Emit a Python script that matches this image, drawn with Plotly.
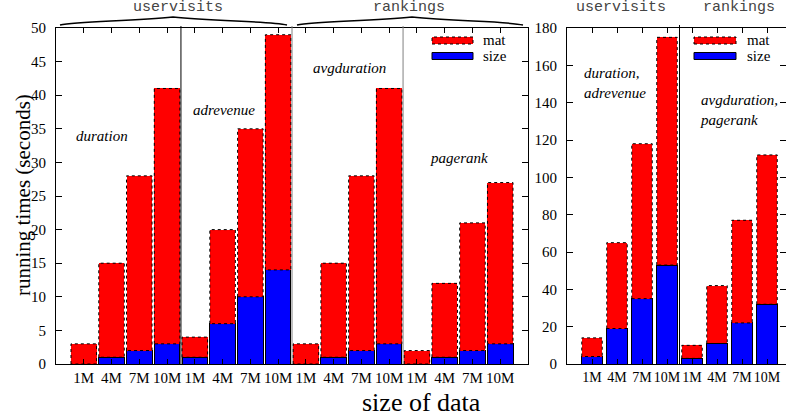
import plotly.graph_objects as go

# ---------------- data ----------------
size_labels = ["1M", "4M", "7M", "10M"]

# left chart: 4 groups (duration, adrevenue | avgduration, pagerank)
left_groups = ["duration", "adrevenue", "avgduration", "pagerank"]
left_size = [0, 1, 2, 3, 1, 6, 10, 14, 0, 1, 2, 3, 0, 1, 2, 3]
left_mat = [3, 14, 26, 38, 3, 14, 25, 35, 3, 14, 26, 38, 2, 11, 19, 24]

# right chart: 2 groups (duration+adrevenue | avgduration+pagerank)
right_groups = ["duration,<br>adrevenue", "avgduration,<br>pagerank"]
right_size = [4, 19, 35, 53, 3, 11, 22, 32]
right_mat = [10, 46, 83, 122, 7, 31, 55, 80]

table_labels = ["uservisits", "rankings"]

# ---------------- helpers ----------------
W, H = 786, 419
TOP, BOT = 28, 364


def PX(x):
    return x / W


def PY(y):
    return (BOT - y) / (BOT - TOP)


SERIF = "Liberation Serif"
MONO = "Liberation Mono"
RED = "#ff0000"
BLUE = "#0000ff"

fig = go.Figure()


def add_chart(sizes, mats, xa, ya, width):
    xs = list(range(1, len(sizes) + 1))
    fig.add_trace(go.Bar(x=xs, y=sizes, width=width, marker=dict(color=BLUE, line=dict(color="black", width=1)),
                         xaxis=xa, yaxis=ya, showlegend=False, name="size"))
    fig.add_trace(go.Bar(x=xs, y=mats, width=width, marker=dict(color=RED, line=dict(width=0)),
                         xaxis=xa, yaxis=ya, showlegend=False, name="mat"))
    # dashed outline of the mat part
    ox, oy = [], []
    for x, s, m in zip(xs, sizes, mats):
        h = width / 2
        ox += [x - h, x - h, x + h, x + h, x - h, None]
        oy += [s, s + m, s + m, s, s, None]
    fig.add_trace(go.Scatter(x=ox, y=oy, mode="lines", line=dict(color="black", width=1, dash="dot"),
                             xaxis=xa, yaxis=ya, showlegend=False, hoverinfo="skip"))


add_chart(left_size, left_mat, "x", "y", 0.92)
add_chart(right_size, right_mat, "x2", "y2", 0.82)

tick_font = dict(family=SERIF, size=15, color="black")
tick_font_small = dict(family=SERIF, size=14, color="black")
axis_base = dict(showline=True, linecolor="black", linewidth=1, mirror="allticks", ticks="inside",
                 tickcolor="black", showgrid=False, zeroline=False, automargin=False)
ycommon = dict(ticklen=6, tickfont=tick_font, ticklabelstandoff=6, **axis_base)

n_left = len(left_size)
n_right = len(right_size)
fig.update_layout(
    width=W, height=H, margin=dict(l=0, r=0, t=TOP, b=H - BOT, autoexpand=False),
    paper_bgcolor="white", plot_bgcolor="white", barmode="stack",
    xaxis=dict(domain=[PX(56), PX(528)], range=[0, n_left + 1], ticklen=5, tickangle=0, tickfont=tick_font,
               tickvals=list(range(1, n_left + 1)), ticktext=size_labels * 4, anchor="y", **axis_base),
    yaxis=dict(domain=[0, 1], range=[0, 50], dtick=5, anchor="x", **ycommon),
    xaxis2=dict(domain=[PX(567), 1], range=[0, 8.76], ticklen=5, tickangle=0, tickfont=tick_font_small,
                tickvals=list(range(1, n_right + 1)), ticktext=size_labels * 2, anchor="y2", **axis_base),
    yaxis2=dict(domain=[0, 1], range=[0, 180], dtick=20, anchor="x2", **ycommon),
)

shapes = []
# group separators
for xv, col in [(4.5, "black"), (8.5, "#808080"), (12.5, "#808080")]:
    shapes.append(dict(type="line", xref="x", yref="paper", x0=xv, x1=xv, y0=0, y1=PY(26),
                       line=dict(color=col, width=1)))
shapes.append(dict(type="line", xref="x2", yref="paper", x0=4.5, x1=4.5, y0=0, y1=PY(25),
                   line=dict(color="black", width=1)))


# curly braces above left chart
def brace(x0, xp, x1, ye=25, yp=17):
    p = (f"M {PX(x0)},{PY(ye)} C {PX(x0 + 18)},{PY(21)} {PX(xp - 40)},{PY(21.5)} {PX(xp)},{PY(yp)} "
         f"C {PX(xp + 40)},{PY(21.5)} {PX(x1 - 18)},{PY(21)} {PX(x1)},{PY(ye)}")
    return dict(type="path", xref="paper", yref="paper", path=p, line=dict(color="black", width=1.5))


shapes.append(brace(60, 173, 287))
shapes.append(brace(297, 412, 523))


# legends
def legend(xbox0, xbox1, xtext):
    out = [
        dict(type="rect", xref="paper", yref="paper", x0=PX(xbox0), x1=PX(xbox1), y0=PY(44), y1=PY(37),
             fillcolor=RED, line=dict(color="black", width=1, dash="dot")),
        dict(type="rect", xref="paper", yref="paper", x0=PX(xbox0), x1=PX(xbox1), y0=PY(59.5), y1=PY(52.5),
             fillcolor=BLUE, line=dict(color="black", width=1)),
    ]
    anns = [
        dict(text="mat", x=PX(xtext), y=PY(40.5), xref="paper", yref="paper", xanchor="left", yanchor="middle",
             showarrow=False, font=dict(family=SERIF, size=15, color="black")),
        dict(text="size", x=PX(xtext), y=PY(56), xref="paper", yref="paper", xanchor="left", yanchor="middle",
             showarrow=False, font=dict(family=SERIF, size=15, color="black")),
    ]
    return out, anns


annotations = []
for bx0, bx1, tx in [(432, 473, 481), (694, 736, 745)]:
    s, a = legend(bx0, bx1, tx)
    shapes += s
    annotations += a

fig.update_layout(shapes=shapes)

# table labels
for txt, cx in zip(table_labels * 2, [178, 409, 621, 739]):
    annotations.append(dict(text=txt, x=PX(cx), y=PY(7), xref="paper", yref="paper", xanchor="center",
                            yanchor="middle", showarrow=False, font=dict(family=MONO, size=15, color="#444")))

# group labels (italic)
ital = dict(family=SERIF, size=15, color="black")
for txt, cx, cy in zip(left_groups, [102, 224, 349, 459], [136, 110, 68, 158]):
    annotations.append(dict(text=f"<i>{txt}</i>", x=PX(cx), y=PY(cy), xref="paper", yref="paper",
                            xanchor="center", yanchor="middle", showarrow=False, font=ital))
for txt, lx, cy in zip(right_groups, [582, 698], [83.5, 109.5]):
    annotations.append(dict(text=f"<i>{txt}</i>", x=PX(lx), y=PY(cy), xref="paper", yref="paper",
                            xanchor="left", yanchor="middle", align="left", showarrow=False, font=ital))

# axis titles
annotations.append(dict(text="running times (seconds)", x=PX(23), y=PY(195), xref="paper", yref="paper",
                        xanchor="center", yanchor="middle", textangle=-90, showarrow=False,
                        font=dict(family=SERIF, size=21, color="black")))
annotations.append(dict(text="size of data", x=PX(421), y=PY(402), xref="paper", yref="paper",
                        xanchor="center", yanchor="middle", showarrow=False,
                        font=dict(family=SERIF, size=26, color="black")))

fig.update_layout(annotations=annotations)
fig.write_html("out.html", config={"displayModeBar": False},
               post_script="document.body.style.margin='0';document.body.style.overflow='hidden';")
